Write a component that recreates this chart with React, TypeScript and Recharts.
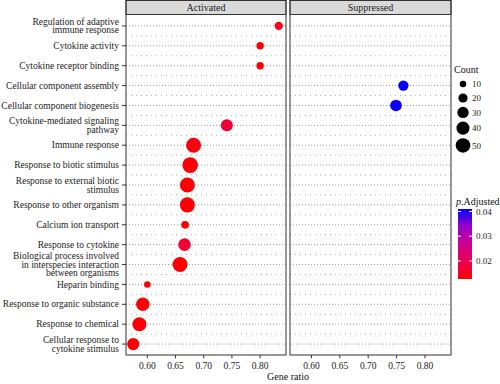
import React from 'react';
import { ScatterChart, Scatter, XAxis, YAxis, ZAxis, CartesianGrid, Cell, ReferenceLine } from 'recharts';

if (typeof document !== 'undefined') document.body.style.margin = '0';

const FONT = "'Liberation Serif', 'Times New Roman', 'DejaVu Serif', serif";
const TXT = { fontFamily: FONT };

// term order, top to bottom
const TERMS = [
  'Regulation of adaptive immune response',
  'Cytokine activity',
  'Cytokine receptor binding',
  'Cellular component assembly',
  'Cellular component biogenesis',
  'Cytokine-mediated signaling pathway',
  'Immune response',
  'Response to biotic stimulus',
  'Response to external biotic stimulus',
  'Response to other organism',
  'Calcium ion transport',
  'Response to cytokine',
  'Biological process involved in interspecies interaction between organisms',
  'Heparin binding',
  'Response to organic substance',
  'Response to chemical',
  'Cellular response to cytokine stimulus',
];

const TERM_LINES = [
  ['Regulation of adaptive', 'immune response'],
  ['Cytokine activity'],
  ['Cytokine receptor binding'],
  ['Cellular component assembly'],
  ['Cellular component biogenesis'],
  ['Cytokine-mediated signaling', 'pathway'],
  ['Immune response'],
  ['Response to biotic stimulus'],
  ['Response to external biotic', 'stimulus'],
  ['Response to other organism'],
  ['Calcium ion transport'],
  ['Response to cytokine'],
  ['Biological process involved', 'in interspecies interaction', 'between organisms'],
  ['Heparin binding'],
  ['Response to organic substance'],
  ['Response to chemical'],
  ['Cellular response to', 'cytokine stimulus'],
];

const activatedTerms = [
  'Regulation of adaptive immune response',
  'Cytokine activity',
  'Cytokine receptor binding',
  'Cytokine-mediated signaling pathway',
  'Immune response',
  'Response to biotic stimulus',
  'Response to external biotic stimulus',
  'Response to other organism',
  'Calcium ion transport',
  'Response to cytokine',
  'Biological process involved in interspecies interaction between organisms',
  'Heparin binding',
  'Response to organic substance',
  'Response to chemical',
  'Cellular response to cytokine stimulus',
];
const activatedRatio = [0.833, 0.8, 0.8, 0.741, 0.682, 0.676, 0.671, 0.671, 0.667, 0.666, 0.658, 0.6, 0.592, 0.586, 0.575];
const activatedCount = [16, 13, 13, 34, 53, 57, 53, 53, 14, 37, 53, 10, 42, 46, 35];
const activatedPadj = [0.014, 0.013, 0.013, 0.017, 0.014, 0.013, 0.013, 0.013, 0.013, 0.017, 0.013, 0.013, 0.013, 0.013, 0.013];

const suppressedTerms = ['Cellular component assembly', 'Cellular component biogenesis'];
const suppressedRatio = [0.762, 0.749];
const suppressedCount = [25, 32];
const suppressedPadj = [0.041, 0.0405];

const ratioTicks = [0.6, 0.65, 0.7, 0.75, 0.8];
const ratioMinor = [0.575, 0.6, 0.625, 0.65, 0.675, 0.7, 0.725, 0.75, 0.775, 0.8, 0.825];
const countBreaks = [10, 20, 30, 40, 50];
const padjBreaks = [0.02, 0.03, 0.04];

const RATIO_DOMAIN: [number, number] = [0.5622, 0.8459];
const ROW_DOMAIN: [number, number] = [-0.55, TERMS.length - 1 + 0.55];
const PADJ_LIM: [number, number] = [0.0127, 0.041];
const COUNT_MAX = 60;
const R_MAX = 8;

const rows = TERMS.map((_, i) => i);
const halfRows = TERMS.slice(1).map((_, i) => i + 0.5);

const toRows = (terms: string[], ratio: number[], count: number[], padj: number[]) =>
  terms.map((t, i) => ({ term: t, row: TERMS.indexOf(t), ratio: ratio[i], count: count[i], padj: padj[i] }));

const activated = toRows(activatedTerms, activatedRatio, activatedCount, activatedPadj);
const suppressed = toRows(suppressedTerms, suppressedRatio, suppressedCount, suppressedPadj);

// red -> blue, roughly like ggplot's Lab interpolation
const STOPS = [
  [0, [255, 0, 0]],
  [0.25, [236, 0, 82]],
  [0.5, [204, 0, 144]],
  [0.75, [154, 0, 200]],
  [1, [0, 0, 255]],
] as [number, number[]][];

function padjColor(p: number) {
  const t = Math.max(0, Math.min(1, (p - PADJ_LIM[0]) / (PADJ_LIM[1] - PADJ_LIM[0])));
  for (let i = 1; i < STOPS.length; i++) {
    const [t1, c1] = STOPS[i];
    const [t0, c0] = STOPS[i - 1];
    if (t <= t1) {
      const f = (t - t0) / (t1 - t0);
      const c = c0.map((v, k) => Math.round(v + (c1[k] - v) * f));
      return `rgb(${c[0]},${c[1]},${c[2]})`;
    }
  }
  return 'rgb(0,0,255)';
}

const countRadius = (c: number) => R_MAX * Math.sqrt(c / COUNT_MAX);

const YTick = (props: any) => {
  const { x, y, payload } = props;
  const lines = TERM_LINES[payload.value] || [];
  const lh = 8.6;
  const start = -((lines.length - 1) / 2) * lh + 3.2;
  return (
    <text x={x} y={y} textAnchor="end" fontSize={9.5} style={TXT} fill="#222">
      {lines.map((l, i) => (
        <tspan key={i} x={x} dy={i === 0 ? start : lh}>
          {l}
        </tspan>
      ))}
    </text>
  );
};

function Panel({ data, showY, width }: { data: any[]; showY: boolean; width: number }) {
  return (
    <ScatterChart width={width} height={384} margin={{ top: 15, right: 0, bottom: 9, left: 0 }}>
      <CartesianGrid horizontalValues={halfRows} verticalValues={ratioMinor} stroke="#b0b0b0" strokeDasharray="1 4" />
      <CartesianGrid horizontalValues={rows} vertical={false} stroke="#9a9a9a" strokeDasharray="1 2" />
      <XAxis
        type="number"
        dataKey="ratio"
        domain={RATIO_DOMAIN}
        allowDataOverflow
        ticks={ratioTicks}
        height={20}
        tick={false}
        tickLine={false}
        axisLine={false}
      />
      <YAxis
        type="number"
        dataKey="row"
        domain={ROW_DOMAIN}
        allowDataOverflow
        reversed
        ticks={rows}
        interval={0}
        hide={!showY}
        width={showY ? 126 : 0}
        tick={<YTick />}
        tickSize={4}
        tickMargin={3}
        tickLine={{ stroke: '#333' }}
        axisLine={false}
      />
      <ZAxis type="number" dataKey="count" domain={[0, COUNT_MAX]} range={[0, Math.PI * R_MAX * R_MAX]} />
      {/* x ticks + labels for every break */}
      {ratioTicks.map((v) => (
        <ReferenceLine
          key={v}
          segment={[
            { x: v, y: ROW_DOMAIN[1] },
            { x: v, y: ROW_DOMAIN[1] + 0.16 },
          ]}
          ifOverflow="visible"
          stroke="#333"
          label={{ value: v.toFixed(2), position: 'bottom', offset: 4, fontSize: 9.5, fontFamily: FONT, fill: '#222' }}
        />
      ))}
      <Scatter data={data} isAnimationActive={false}>
        {data.map((d, i) => (
          <Cell key={i} fill={padjColor(d.padj)} />
        ))}
      </Scatter>
    </ScatterChart>
  );
}

function Overlay() {
  // legend layout
  let cy = 84;
  const keys = countBreaks.map((c, i) => {
    const r = countRadius(c);
    const h = Math.max(14, 2 * r + 3.5);
    if (i > 0) {
      const prev = Math.max(14, 2 * countRadius(countBreaks[i - 1]) + 3.5);
      cy += (prev + h) / 2;
    }
    return { c, r, cy };
  });
  const barTop = 209;
  const barH = 70;
  const barY = (v: number) => barTop + barH - ((v - PADJ_LIM[0]) / (PADJ_LIM[1] - PADJ_LIM[0])) * barH;

  return (
    <svg width={500} height={384} style={{ position: 'absolute', left: 0, top: 0, pointerEvents: 'none' }}>
      <defs>
        <linearGradient id="padj" x1="0" y1="1" x2="0" y2="0">
          {STOPS.map(([t, c], i) => (
            <stop key={i} offset={t} stopColor={`rgb(${c[0]},${c[1]},${c[2]})`} />
          ))}
        </linearGradient>
      </defs>
      {[
        { x: 126, w: 160, label: 'Activated' },
        { x: 290, w: 161, label: 'Suppressed' },
      ].map((p) => (
        <g key={p.label}>
          <rect x={p.x} y={0.5} width={p.w} height={14} fill="#d9d9d9" stroke="#333" />
          <rect x={p.x} y={0.5} width={p.w} height={354.5} fill="none" stroke="#333" />
          <text x={p.x + p.w / 2} y={11} textAnchor="middle" fontSize={10} style={TXT} fill="#1a1a1a">
            {p.label}
          </text>
        </g>
      ))}
      <text x={288} y={380} textAnchor="middle" fontSize={10} style={TXT} fill="#111">
        Gene ratio
      </text>

      <text x={454} y={73} fontSize={10} style={TXT} fill="#111">
        Count
      </text>
      {keys.map((k) => (
        <g key={k.c}>
          <circle cx={463} cy={k.cy} r={k.r} fill="#000" />
          <text x={472} y={k.cy + 3.2} fontSize={9} style={TXT} fill="#222">
            {k.c}
          </text>
        </g>
      ))}

      <text x={456} y={205} fontSize={10} style={TXT} fill="#111">
        <tspan fontStyle="italic">p</tspan>.Adjusted
      </text>
      <rect x={458} y={barTop} width={14} height={barH} fill="url(#padj)" />
      {padjBreaks.map((v) => (
        <g key={v}>
          <line x1={458} x2={461} y1={barY(v)} y2={barY(v)} stroke="#fff" />
          <line x1={469} x2={472} y1={barY(v)} y2={barY(v)} stroke="#fff" />
          <text x={476} y={barY(v) + 3.2} fontSize={9} style={TXT} fill="#222">
            {v.toFixed(2)}
          </text>
        </g>
      ))}
    </svg>
  );
}

export default function App() {
  return (
    <div style={{ position: 'relative', width: 500, height: 384, background: '#fff', overflow: 'hidden' }}>
      <div style={{ position: 'absolute', left: 0, top: 0 }}>
        <Panel data={activated} showY width={286} />
      </div>
      <div style={{ position: 'absolute', left: 290, top: 0 }}>
        <Panel data={suppressed} showY={false} width={161} />
      </div>
      <Overlay />
    </div>
  );
}
